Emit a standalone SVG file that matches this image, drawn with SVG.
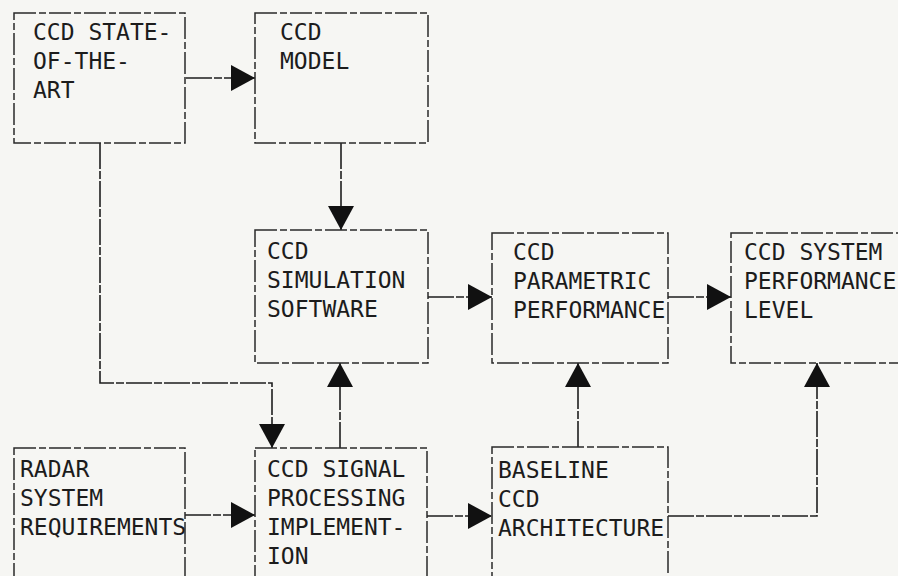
<svg xmlns="http://www.w3.org/2000/svg" width="898" height="576" viewBox="0 0 898 576">
<style>
.bg{fill:#f6f6f3}
.box{fill:none;stroke:#2a2a2a;stroke-width:1.5;stroke-dasharray:22 3 7 3}
.t{font-family:"DejaVu Sans Mono","Liberation Mono",monospace;font-size:23px;fill:#1c1c1c}
.c{fill:none;stroke:#1e1e1e;stroke-width:1.6;stroke-dasharray:26 2 8 2}
</style>
<defs>
<marker id="ah" markerUnits="userSpaceOnUse" viewBox="0 0 24 26" markerWidth="24" markerHeight="26" refX="24" refY="13" orient="auto">
<path d="M0 0 L24 13 L0 26 Z" fill="#111" stroke="none"/>
</marker>
</defs>
<rect class="bg" x="0" y="0" width="898" height="576"/>

<g id="connectors">
<path class="c" d="M186 78 H255" marker-end="url(#ah)"/>
<path class="c" d="M341 143 V230" marker-end="url(#ah)"/>
<path class="c" d="M100 143 V383 H272 V448" marker-end="url(#ah)"/>
<path class="c" d="M428 297 H492" marker-end="url(#ah)"/>
<path class="c" d="M668 297 H731" marker-end="url(#ah)"/>
<path class="c" d="M340 448 V363" marker-end="url(#ah)"/>
<path class="c" d="M578 447 V363" marker-end="url(#ah)"/>
<path class="c" d="M185 515 H255" marker-end="url(#ah)"/>
<path class="c" d="M427 516 H492" marker-end="url(#ah)"/>
<path class="c" d="M668 516 H817 V363" marker-end="url(#ah)"/>
</g>

<g id="state-of-the-art">
<rect class="box" x="14" y="13" width="171" height="130"/>
<text class="t" x="33" y="40">CCD STATE-</text>
<text class="t" x="33" y="69">OF-THE-</text>
<text class="t" x="33" y="98">ART</text>
</g>

<g id="ccd-model">
<rect class="box" x="255" y="13" width="173" height="130"/>
<text class="t" x="280" y="40">CCD</text>
<text class="t" x="280" y="69">MODEL</text>
</g>

<g id="simulation-software">
<rect class="box" x="255" y="230" width="173" height="133"/>
<text class="t" x="267" y="259">CCD</text>
<text class="t" x="267" y="288">SIMULATION</text>
<text class="t" x="267" y="317">SOFTWARE</text>
</g>

<g id="parametric-performance">
<rect class="box" x="492" y="233" width="176" height="130"/>
<text class="t" x="513" y="260">CCD</text>
<text class="t" x="513" y="289">PARAMETRIC</text>
<text class="t" x="513" y="318">PERFORMANCE</text>
</g>

<g id="system-performance-level">
<rect class="box" x="731" y="233" width="200" height="130"/>
<text class="t" x="744" y="260">CCD SYSTEM</text>
<text class="t" x="744" y="289">PERFORMANCE</text>
<text class="t" x="744" y="318">LEVEL</text>
</g>

<g id="radar-requirements">
<rect class="box" x="14" y="448" width="171" height="160"/>
<text class="t" x="20" y="477">RADAR</text>
<text class="t" x="20" y="506">SYSTEM</text>
<text class="t" x="20" y="535">REQUIREMENTS</text>
</g>

<g id="signal-processing">
<rect class="box" x="255" y="448" width="172" height="160"/>
<text class="t" x="267" y="477">CCD SIGNAL</text>
<text class="t" x="267" y="506">PROCESSING</text>
<text class="t" x="267" y="535">IMPLEMENT-</text>
<text class="t" x="267" y="564">ION</text>
</g>

<g id="baseline-architecture">
<rect class="box" x="492" y="447" width="176" height="160"/>
<text class="t" x="498" y="478">BASELINE</text>
<text class="t" x="498" y="507">CCD</text>
<text class="t" x="498" y="536">ARCHITECTURE</text>
</g>
</svg>
